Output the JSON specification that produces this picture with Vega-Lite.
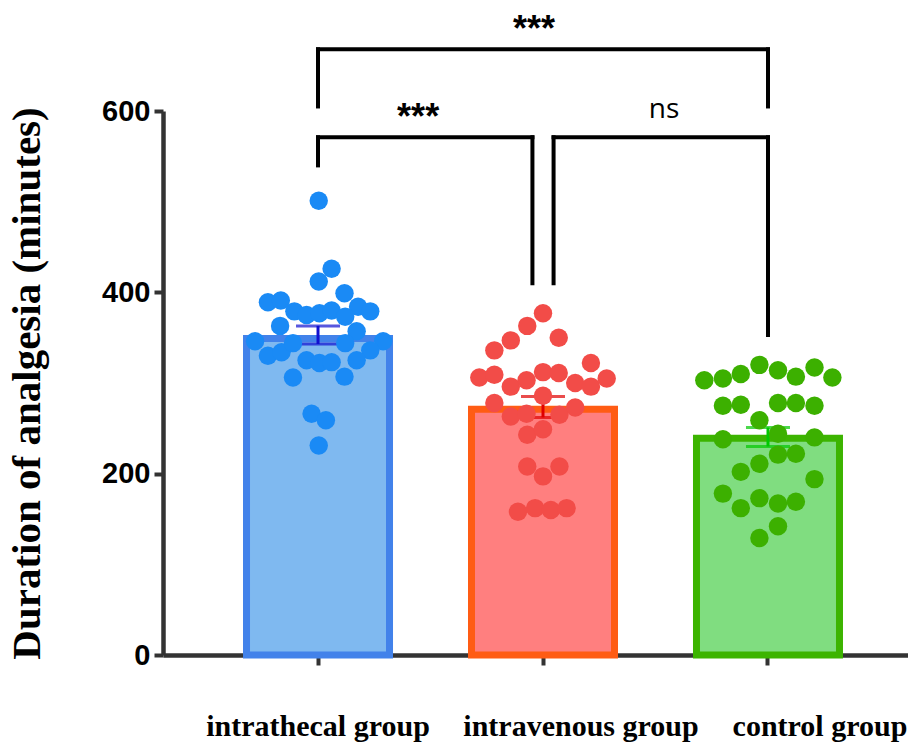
{
  "$schema": "https://vega.github.io/schema/vega-lite/v6.json",
  "autosize": {"type": "none"},
  "width": 745,
  "height": 544,
  "padding": {"left": 163, "top": 111, "right": 0, "bottom": 87},
  "background": "white",
  "config": {"view": {"stroke": null}},
  "datasets": {
    "dots": [
      {"group": "intrathecal group", "dx": 0.01, "value": 501},
      {"group": "intrathecal group", "dx": 0.19, "value": 426},
      {"group": "intrathecal group", "dx": 0.01, "value": 412},
      {"group": "intrathecal group", "dx": 0.37, "value": 399},
      {"group": "intrathecal group", "dx": -0.70, "value": 389},
      {"group": "intrathecal group", "dx": -0.52, "value": 391},
      {"group": "intrathecal group", "dx": 0.56, "value": 384},
      {"group": "intrathecal group", "dx": 0.73, "value": 379},
      {"group": "intrathecal group", "dx": -0.33, "value": 379},
      {"group": "intrathecal group", "dx": -0.16, "value": 375},
      {"group": "intrathecal group", "dx": 0.02, "value": 377},
      {"group": "intrathecal group", "dx": 0.19, "value": 380},
      {"group": "intrathecal group", "dx": 0.38, "value": 373},
      {"group": "intrathecal group", "dx": -0.53, "value": 363},
      {"group": "intrathecal group", "dx": 0.54, "value": 357},
      {"group": "intrathecal group", "dx": -0.88, "value": 346},
      {"group": "intrathecal group", "dx": 0.91, "value": 346},
      {"group": "intrathecal group", "dx": -0.70, "value": 330},
      {"group": "intrathecal group", "dx": -0.51, "value": 334},
      {"group": "intrathecal group", "dx": -0.35, "value": 344},
      {"group": "intrathecal group", "dx": 0.38, "value": 344},
      {"group": "intrathecal group", "dx": 0.73, "value": 336},
      {"group": "intrathecal group", "dx": -0.16, "value": 325},
      {"group": "intrathecal group", "dx": 0.02, "value": 322},
      {"group": "intrathecal group", "dx": 0.19, "value": 323},
      {"group": "intrathecal group", "dx": 0.54, "value": 325},
      {"group": "intrathecal group", "dx": -0.35, "value": 306},
      {"group": "intrathecal group", "dx": 0.37, "value": 307},
      {"group": "intrathecal group", "dx": -0.09, "value": 266},
      {"group": "intrathecal group", "dx": 0.11, "value": 259},
      {"group": "intrathecal group", "dx": 0.01, "value": 231},
      {"group": "intravenous group", "dx": 0.00, "value": 377},
      {"group": "intravenous group", "dx": -0.22, "value": 363},
      {"group": "intravenous group", "dx": -0.45, "value": 347},
      {"group": "intravenous group", "dx": -0.68, "value": 336},
      {"group": "intravenous group", "dx": 0.22, "value": 350},
      {"group": "intravenous group", "dx": 0.67, "value": 322},
      {"group": "intravenous group", "dx": -0.89, "value": 306},
      {"group": "intravenous group", "dx": -0.68, "value": 309},
      {"group": "intravenous group", "dx": -0.45, "value": 296},
      {"group": "intravenous group", "dx": -0.23, "value": 303},
      {"group": "intravenous group", "dx": 0.00, "value": 312},
      {"group": "intravenous group", "dx": 0.22, "value": 311},
      {"group": "intravenous group", "dx": 0.45, "value": 300},
      {"group": "intravenous group", "dx": 0.67, "value": 296},
      {"group": "intravenous group", "dx": 0.89, "value": 305},
      {"group": "intravenous group", "dx": -0.68, "value": 278},
      {"group": "intravenous group", "dx": 0.00, "value": 286},
      {"group": "intravenous group", "dx": -0.45, "value": 263},
      {"group": "intravenous group", "dx": -0.23, "value": 266},
      {"group": "intravenous group", "dx": 0.23, "value": 265},
      {"group": "intravenous group", "dx": 0.45, "value": 273},
      {"group": "intravenous group", "dx": -0.22, "value": 243},
      {"group": "intravenous group", "dx": 0.00, "value": 249},
      {"group": "intravenous group", "dx": -0.22, "value": 208},
      {"group": "intravenous group", "dx": 0.23, "value": 208},
      {"group": "intravenous group", "dx": 0.00, "value": 197},
      {"group": "intravenous group", "dx": -0.35, "value": 158},
      {"group": "intravenous group", "dx": -0.11, "value": 162},
      {"group": "intravenous group", "dx": 0.11, "value": 160},
      {"group": "intravenous group", "dx": 0.33, "value": 162},
      {"group": "control group", "dx": -0.89, "value": 303},
      {"group": "control group", "dx": -0.63, "value": 305},
      {"group": "control group", "dx": -0.38, "value": 310},
      {"group": "control group", "dx": -0.12, "value": 320},
      {"group": "control group", "dx": 0.14, "value": 314},
      {"group": "control group", "dx": 0.39, "value": 307},
      {"group": "control group", "dx": 0.65, "value": 317},
      {"group": "control group", "dx": 0.90, "value": 306},
      {"group": "control group", "dx": -0.63, "value": 275},
      {"group": "control group", "dx": -0.38, "value": 276},
      {"group": "control group", "dx": 0.14, "value": 278},
      {"group": "control group", "dx": 0.39, "value": 278},
      {"group": "control group", "dx": 0.65, "value": 275},
      {"group": "control group", "dx": -0.12, "value": 259},
      {"group": "control group", "dx": -0.63, "value": 238},
      {"group": "control group", "dx": 0.14, "value": 244},
      {"group": "control group", "dx": 0.65, "value": 240},
      {"group": "control group", "dx": 0.14, "value": 221},
      {"group": "control group", "dx": 0.39, "value": 222},
      {"group": "control group", "dx": -0.12, "value": 211},
      {"group": "control group", "dx": -0.38, "value": 202},
      {"group": "control group", "dx": 0.65, "value": 194},
      {"group": "control group", "dx": -0.63, "value": 178},
      {"group": "control group", "dx": -0.12, "value": 173},
      {"group": "control group", "dx": 0.14, "value": 167},
      {"group": "control group", "dx": 0.39, "value": 169},
      {"group": "control group", "dx": -0.38, "value": 162},
      {"group": "control group", "dx": 0.14, "value": 142},
      {"group": "control group", "dx": -0.12, "value": 129}
    ],
    "summary": [
      {"group": "intrathecal group", "mean": 349, "lo": 343, "hi": 363},
      {"group": "intravenous group", "mean": 271, "lo": 262, "hi": 285},
      {"group": "control group", "mean": 239, "lo": 230, "hi": 251}
    ],
    "segments": [
      {"x1": 0, "x2": 2, "y1": 668, "y2": 668},
      {"x1": 0, "x2": 0, "y1": 605, "y2": 668},
      {"x1": 2, "x2": 2, "y1": 605, "y2": 668},
      {"x1": 0, "x2": 0.953, "y1": 571, "y2": 571},
      {"x1": 0, "x2": 0, "y1": 540, "y2": 571},
      {"x1": 0.953, "x2": 0.953, "y1": 410, "y2": 571},
      {"x1": 1.047, "x2": 2, "y1": 571, "y2": 571},
      {"x1": 1.047, "x2": 1.047, "y1": 410, "y2": 571},
      {"x1": 2, "x2": 2, "y1": 353, "y2": 571}
    ],
    "labels": [
      {"x": 0.96, "y": 677, "label": "***"},
      {"x": 0.445, "y": 580, "label": "***"},
      {"x": 1.538, "y": 592, "label": "ns"}
    ]
  },
  "resolve": {"scale": {"x": "independent", "color": "independent", "fill": "independent", "stroke": "independent"}},
  "layer": [
    {
      "data": {"name": "summary"},
      "mark": {"type": "bar", "strokeWidth": 7, "strokeJoin": "miter", "width": 143},
      "encoding": {
        "x": {
          "field": "group", "type": "nominal",
          "sort": ["intrathecal group", "intravenous group", "control group"],
          "scale": {"range": [0, 760], "paddingInner": 0.364, "paddingOuter": 0.371},
          "axis": {
            "title": null, "labelAngle": 0, "domainColor": "#333333", "domainWidth": 4.5,
            "tickColor": "#333333", "tickWidth": 4, "tickSize": 10,
            "labelFont": "Liberation Serif", "labelFontWeight": "bold", "labelFontSize": 30,
            "labelColor": "#000000", "labelPadding": 46, "labelLimit": 500,
            "labelOffset": {"expr": "datum.value === 'intravenous group' ? 38 : datum.value === 'control group' ? 52 : 0"}
          }
        },
        "y": {
          "field": "mean", "type": "quantitative",
          "scale": {"domain": [0, 600], "nice": false},
          "axis": {
            "values": [0, 200, 400, 600], "grid": false,
            "domainColor": "#333333", "domainWidth": 4.5,
            "tickColor": "#333333", "tickWidth": 4, "tickSize": 9,
            "labelFont": "Liberation Sans", "labelFontWeight": "bold", "labelFontSize": 29,
            "labelColor": "#000000", "labelPadding": 4,
            "title": "Duration of analgesia (minutes)",
            "titleFont": "Liberation Serif", "titleFontSize": 41, "titleFontWeight": "bold",
            "titleColor": "#000000", "titlePadding": 53
          }
        },
        "fill": {
          "field": "group", "type": "nominal", "legend": null,
          "scale": {"domain": ["intrathecal group", "intravenous group", "control group"], "range": ["#7fb9f0", "#ff7f7f", "#80dd80"]}
        },
        "stroke": {
          "field": "group", "type": "nominal", "legend": null,
          "scale": {"domain": ["intrathecal group", "intravenous group", "control group"], "range": ["#4282ea", "#ff5c14", "#3cb400"]}
        }
      }
    },
    {
      "data": {"name": "summary"},
      "mark": {"type": "rule", "strokeWidth": 3},
      "encoding": {
        "x": {
          "field": "group", "type": "nominal",
          "sort": ["intrathecal group", "intravenous group", "control group"],
          "scale": {"range": [0, 760], "paddingInner": 0.364, "paddingOuter": 0.371},
          "axis": null
        },
        "y": {"field": "lo", "type": "quantitative"},
        "y2": {"field": "hi"},
        "color": {
          "field": "group", "type": "nominal", "legend": null,
          "scale": {"domain": ["intrathecal group", "intravenous group", "control group"], "range": ["#1010d0", "#e00000", "#00c800"]}
        }
      }
    },
    {
      "data": {"name": "summary"},
      "mark": {"type": "tick", "size": 44, "thickness": 3},
      "encoding": {
        "x": {
          "field": "group", "type": "nominal",
          "sort": ["intrathecal group", "intravenous group", "control group"],
          "scale": {"range": [0, 760], "paddingInner": 0.364, "paddingOuter": 0.371},
          "axis": null
        },
        "y": {"field": "lo", "type": "quantitative"},
        "color": {
          "field": "group", "type": "nominal", "legend": null,
          "scale": {"domain": ["intrathecal group", "intravenous group", "control group"], "range": ["#1010d0", "#e00000", "#00c800"]}
        }
      }
    },
    {
      "data": {"name": "summary"},
      "mark": {"type": "tick", "size": 44, "thickness": 3},
      "encoding": {
        "x": {
          "field": "group", "type": "nominal",
          "sort": ["intrathecal group", "intravenous group", "control group"],
          "scale": {"range": [0, 760], "paddingInner": 0.364, "paddingOuter": 0.371},
          "axis": null
        },
        "y": {"field": "hi", "type": "quantitative"},
        "color": {
          "field": "group", "type": "nominal", "legend": null,
          "scale": {"domain": ["intrathecal group", "intravenous group", "control group"], "range": ["#1010d0", "#e00000", "#00c800"]}
        }
      }
    },
    {
      "data": {"name": "dots"},
      "mark": {"type": "circle", "size": 340, "opacity": 1},
      "encoding": {
        "x": {
          "field": "group", "type": "nominal",
          "sort": ["intrathecal group", "intravenous group", "control group"],
          "scale": {"range": [0, 760], "paddingInner": 0.364, "paddingOuter": 0.371},
          "axis": null
        },
        "xOffset": {"field": "dx", "type": "quantitative", "scale": {"domain": [-1, 1]}},
        "y": {"field": "value", "type": "quantitative"},
        "color": {
          "field": "group", "type": "nominal", "legend": null,
          "scale": {"domain": ["intrathecal group", "intravenous group", "control group"], "range": ["#1a8af5", "#f24c48", "#3cb000"]}
        }
      }
    },
    {
      "data": {"name": "segments"},
      "mark": {"type": "rule", "strokeWidth": 4, "color": "#000000", "strokeCap": "square"},
      "encoding": {
        "x": {"field": "x1", "type": "quantitative", "scale": {"domain": [-0.6889, 2.6889], "range": [0, 760], "nice": false, "zero": false}, "axis": null},
        "x2": {"field": "x2"},
        "y": {"field": "y1", "type": "quantitative"},
        "y2": {"field": "y2"}
      }
    },
    {
      "data": {"name": "labels"},
      "transform": [{"filter": "datum.label === '***'"}],
      "mark": {"type": "text", "font": "Liberation Sans", "fontWeight": "bold", "fontSize": 36, "baseline": "alphabetic", "align": "center", "color": "#000000"},
      "encoding": {
        "x": {"field": "x", "type": "quantitative", "scale": {"domain": [-0.6889, 2.6889], "range": [0, 760], "nice": false, "zero": false}, "axis": null},
        "y": {"field": "y", "type": "quantitative"},
        "text": {"field": "label"}
      }
    },
    {
      "data": {"name": "labels"},
      "transform": [{"filter": "datum.label === 'ns'"}],
      "mark": {"type": "text", "font": "Open Sans", "fontSize": 28, "baseline": "alphabetic", "align": "center", "color": "#000000"},
      "encoding": {
        "x": {"field": "x", "type": "quantitative", "scale": {"domain": [-0.6889, 2.6889], "range": [0, 760], "nice": false, "zero": false}, "axis": null},
        "y": {"field": "y", "type": "quantitative"},
        "text": {"field": "label"}
      }
    }
  ]
}
